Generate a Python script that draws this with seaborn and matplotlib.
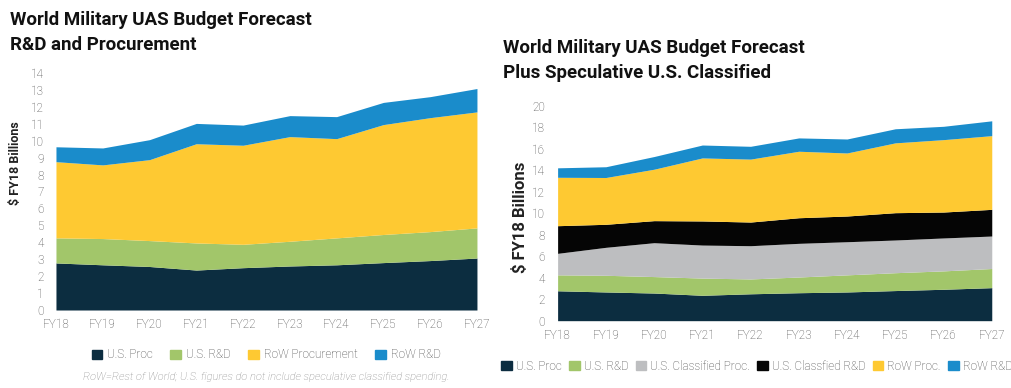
import matplotlib
matplotlib.use("Agg")
import matplotlib.pyplot as plt
import seaborn as sns
import pandas as pd
from matplotlib.patches import Patch

years = ["FY18", "FY19", "FY20", "FY21", "FY22", "FY23", "FY24", "FY25", "FY26", "FY27"]
us_proc = [2.78, 2.67, 2.57, 2.36, 2.50, 2.60, 2.67, 2.80, 2.92, 3.07]
us_rd = [1.48, 1.55, 1.53, 1.60, 1.38, 1.46, 1.59, 1.66, 1.71, 1.78]
us_class_proc = [2.00, 2.60, 3.15, 3.07, 3.09, 3.13, 3.08, 3.04, 3.06, 3.02]
us_class_rd = [2.57, 2.14, 2.05, 2.24, 2.20, 2.38, 2.39, 2.54, 2.41, 2.48]
row_proc = [4.50, 4.35, 4.78, 5.86, 5.85, 6.18, 5.86, 6.49, 6.73, 6.85]
row_rd = [0.88, 1.00, 1.18, 1.20, 1.19, 1.24, 1.30, 1.31, 1.24, 1.38]

left_ticks = list(range(0, 15))
right_ticks = list(range(0, 21, 2))

C_PROC = "#0c2d40"
C_RD = "#a2c66a"
C_CPROC = "#bdbec0"
C_CRD = "#050505"
C_ROWP = "#fec932"
C_ROWRD = "#1a8ccb"

sns.set_theme(style="white")
plt.rcParams["font.family"] = ["Roboto", "DejaVu Sans"]

df = pd.DataFrame({
    "year": years, "US Proc": us_proc, "US R&D": us_rd,
    "Class Proc": us_class_proc, "Class R&D": us_class_rd,
    "RoW Proc": row_proc, "RoW R&D": row_rd,
})
x = list(range(len(years)))

fig = plt.figure(figsize=(10.12, 3.88), dpi=100)
ax1 = fig.add_axes([0.0553, 0.201, 0.416, 0.611])
ax2 = fig.add_axes([0.551, 0.1735, 0.429, 0.5545])

TICKFONT = dict(family=["Roboto", "DejaVu Sans"], color="#4a4a4a", fontweight="light")

ax1.stackplot(x, df["US Proc"], df["US R&D"], df["RoW Proc"], df["RoW R&D"],
              colors=[C_PROC, C_RD, C_ROWP, C_ROWRD], linewidth=0)
ax1.set_ylim(0, 14)
ax1.set_yticks(left_ticks)

ax2.stackplot(x, df["US Proc"], df["US R&D"], df["Class Proc"], df["Class R&D"],
              df["RoW Proc"], df["RoW R&D"],
              colors=[C_PROC, C_RD, C_CPROC, C_CRD, C_ROWP, C_ROWRD], linewidth=0)
ax2.set_ylim(0, 20)
ax2.set_yticks(right_ticks)

for ax in (ax1, ax2):
    ax.set_xlim(0, len(years) - 1)
    ax.set_xticks(x)
    ax.set_xticklabels(years, fontsize=8.5, **TICKFONT)
    ax.set_yticklabels([str(t) for t in ax.get_yticks().astype(int)], fontsize=8.5, **TICKFONT)
    ax.tick_params(axis="x", length=0, pad=6)
    ax.tick_params(axis="y", length=0, pad=9)
    for s in ax.spines.values():
        s.set_visible(False)
    ax.set_facecolor("white")
    ax.grid(False)

YLAB = dict(fontweight="bold", color="#222222", family=["Roboto", "DejaVu Sans"],
            rotation=90, ha="center", va="center")
fig.text(16 / 1012, 1 - 163 / 388, "$ FY18 Billions", fontsize=9, **YLAB)
fig.text(520 / 1012, 1 - 217 / 388, "$ FY18 Billions", fontsize=12, **YLAB)

TITLEFONT = dict(family=["Roboto", "DejaVu Sans"], fontweight="bold", color="#111111", fontsize=13.5)
fig.text(10 / 1012, 1 - 20 / 388, "World Military UAS Budget Forecast", va="center", ha="left", **TITLEFONT)
fig.text(10 / 1012, 1 - 45 / 388, "R&D and Procurement", va="center", ha="left", **TITLEFONT)
fig.text(503 / 1012, 1 - 48 / 388, "World Military UAS Budget Forecast", va="center", ha="left", **TITLEFONT)
fig.text(503 / 1012, 1 - 73 / 388, "Plus Speculative U.S. Classified", va="center", ha="left", **TITLEFONT)

LEGFONT = {"family": ["Roboto", "DejaVu Sans"], "size": 8.5, "weight": "light"}
h1 = [Patch(color=c) for c in [C_PROC, C_RD, C_ROWP, C_ROWRD]]
l1 = ["U.S. Proc", "U.S. R&D", "RoW Procurement", "RoW R&D"]
leg1 = fig.legend(h1, l1, loc="center", bbox_to_anchor=(266 / 1012, 1 - 355 / 388), ncol=4,
                  frameon=False, prop=LEGFONT, handlelength=0.9, handleheight=0.9,
                  handletextpad=0.4, columnspacing=1.5, borderpad=0, borderaxespad=0)
for t in leg1.get_texts():
    t.set_color("#444444")

h2 = [Patch(color=c) for c in [C_PROC, C_RD, C_CPROC, C_CRD, C_ROWP, C_ROWRD]]
l2 = ["U.S. Proc", "U.S. R&D", "U.S. Classified Proc.", "U.S. Classfied R&D", "RoW Proc.", "RoW R&D"]
leg2 = fig.legend(h2, l2, loc="center", bbox_to_anchor=(757 / 1012, 1 - 366 / 388), ncol=6,
                  frameon=False, prop=LEGFONT, handlelength=0.9, handleheight=0.9,
                  handletextpad=0.35, columnspacing=0.6, borderpad=0, borderaxespad=0)
for t in leg2.get_texts():
    t.set_color("#444444")

fig.text(266 / 1012, 1 - 377 / 388,
         "RoW=Rest of World; U.S. figures do not include speculative classified spending.",
         ha="center", va="center", fontsize=8, style="italic", color="#888888",
         family=["Roboto", "DejaVu Sans"], fontweight="light")

fig.savefig("out.png", dpi=100, facecolor="white")
